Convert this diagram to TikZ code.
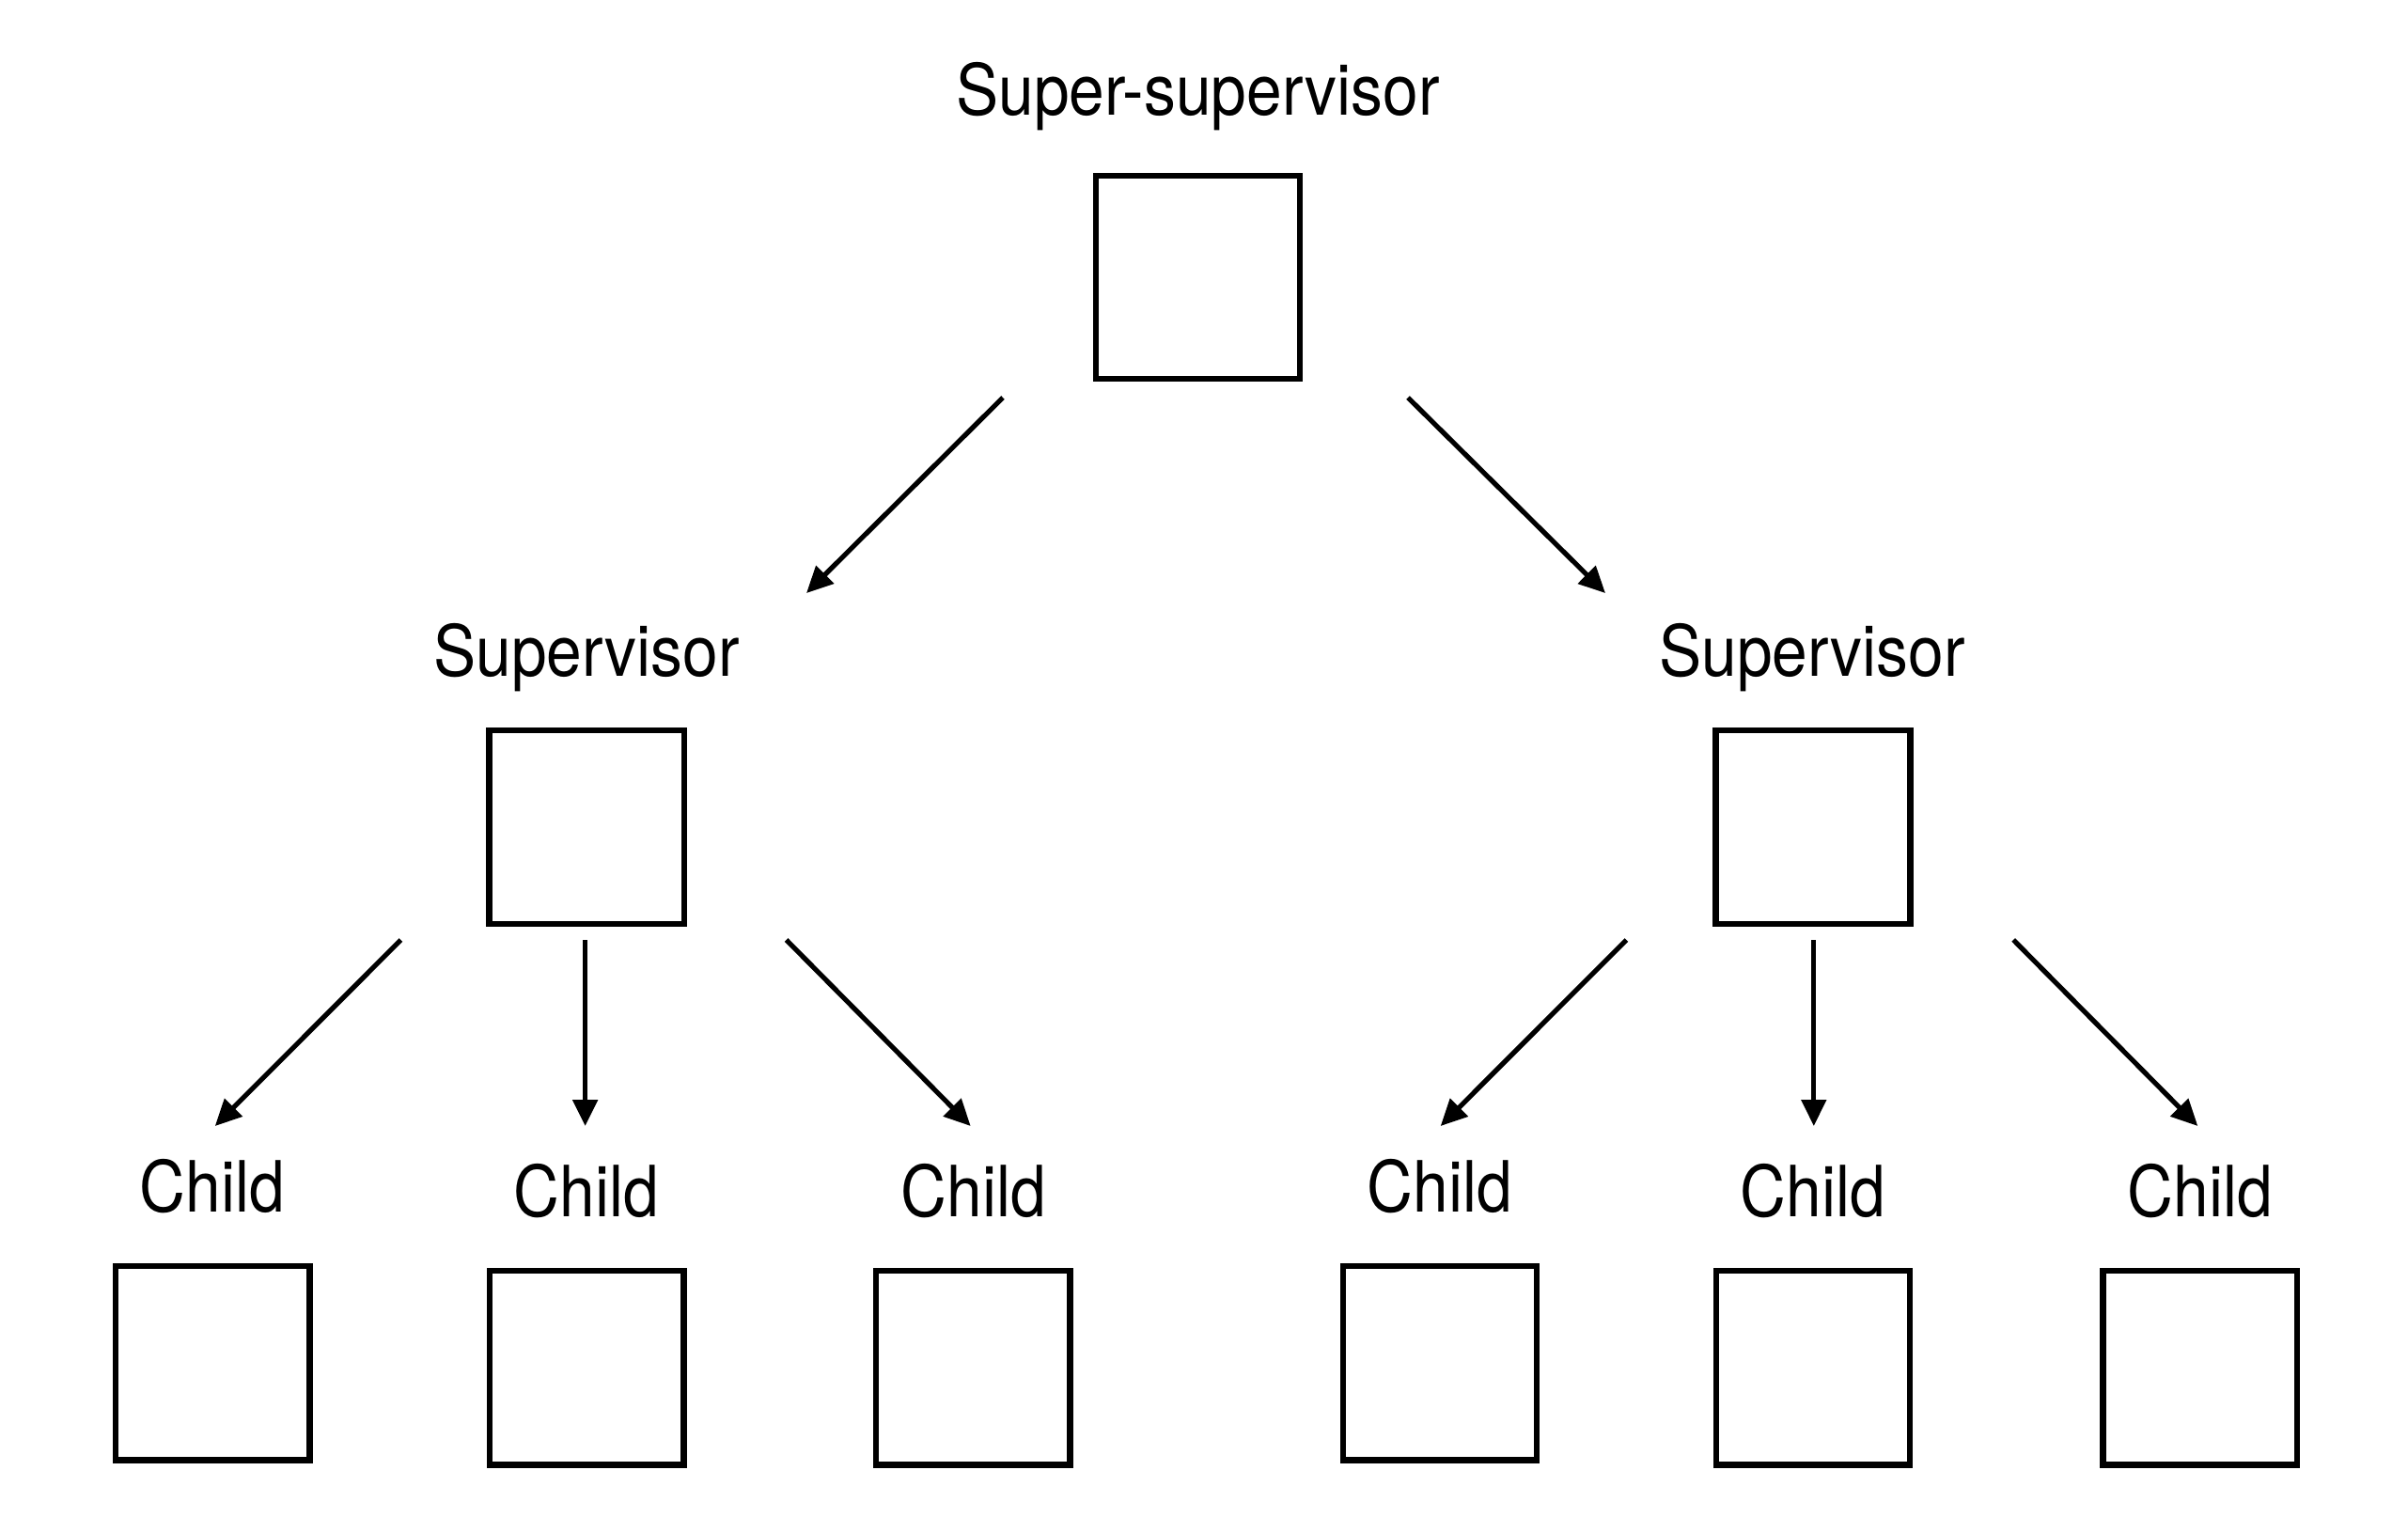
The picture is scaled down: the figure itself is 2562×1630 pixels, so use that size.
\documentclass[tikz,border=0pt]{standalone}
\usepackage{fontspec}
\setmainfont{TeX Gyre Heros}[FakeStretch=0.9]
\usetikzlibrary{arrows.meta}
\begin{document}
\begin{tikzpicture}[x=0.25pt,y=-0.25pt,
  box/.style={draw=black,line width=1.6pt,fill=white,inner sep=0pt},
  bigbox/.style={box,minimum width=54.2pt,minimum height=54pt},
  supbox/.style={box,minimum width=51.8pt,minimum height=51.6pt},
  kidbox/.style={box,minimum width=51.6pt,minimum height=51.6pt},
  lbl/.style={anchor=base,inner sep=0pt,font=\fontsize{18.8}{22}\selectfont},
  arr/.style={line width=1.3pt,-{Triangle[length=7pt,width=6.5pt]}}]
\useasboundingbox (0,0) rectangle (2562,1630);
% labels
\node[lbl] (lss) at (1274.5,122.5) {Super-supervisor};
\node[lbl] (lsl) at (624,719) {Supervisor};
\node[lbl] (lsr) at (1928,719) {Supervisor};
\node[lbl] (lc1) at (226,1289) {Child};
\node[lbl] (lc2) at (624,1294) {Child};
\node[lbl] (lc3) at (1036,1294) {Child};
\node[lbl] (lc4) at (1532,1289) {Child};
\node[lbl] (lc5) at (1929,1294) {Child};
\node[lbl] (lc6) at (2341,1294) {Child};
% boxes
\node[bigbox] (ss) at (1274.5,295) {};
\node[supbox] (sl) at (624.2,879.9) {};
\node[supbox] (sr) at (1928.9,879.9) {};
\node[kidbox] (c1) at (226.3,1450.2) {};
\node[kidbox] (c2) at (624.2,1455.1) {};
\node[kidbox] (c3) at (1035.1,1455.1) {};
\node[kidbox] (c4) at (1531.9,1450.2) {};
\node[kidbox] (c5) at (1928.9,1455.1) {};
\node[kidbox] (c6) at (2340.7,1455.1) {};
% arrow end points
\coordinate (a1s) at (1067,423);   \coordinate (a1e) at (858,631);
\coordinate (a2s) at (1498,423);   \coordinate (a2e) at (1708,631);
\coordinate (b1s) at (426.5,1000); \coordinate (b1e) at (228.8,1198);
\coordinate (b2s) at (622.6,1000); \coordinate (b2e) at (622.6,1198);
\coordinate (b3s) at (836.6,1000); \coordinate (b3e) at (1032.7,1198);
\coordinate (d1s) at (1730.4,1000); \coordinate (d1e) at (1532.7,1198);
\coordinate (d2s) at (1929.8,1000); \coordinate (d2e) at (1929.8,1198);
\coordinate (d3s) at (2142.2,1000); \coordinate (d3e) at (2338.3,1198);
\draw[arr] (a1s) -- (a1e);
\draw[arr] (a2s) -- (a2e);
\draw[arr] (b1s) -- (b1e);
\draw[arr] (b2s) -- (b2e);
\draw[arr] (b3s) -- (b3e);
\draw[arr] (d1s) -- (d1e);
\draw[arr] (d2s) -- (d2e);
\draw[arr] (d3s) -- (d3e);
\end{tikzpicture}
\end{document}
